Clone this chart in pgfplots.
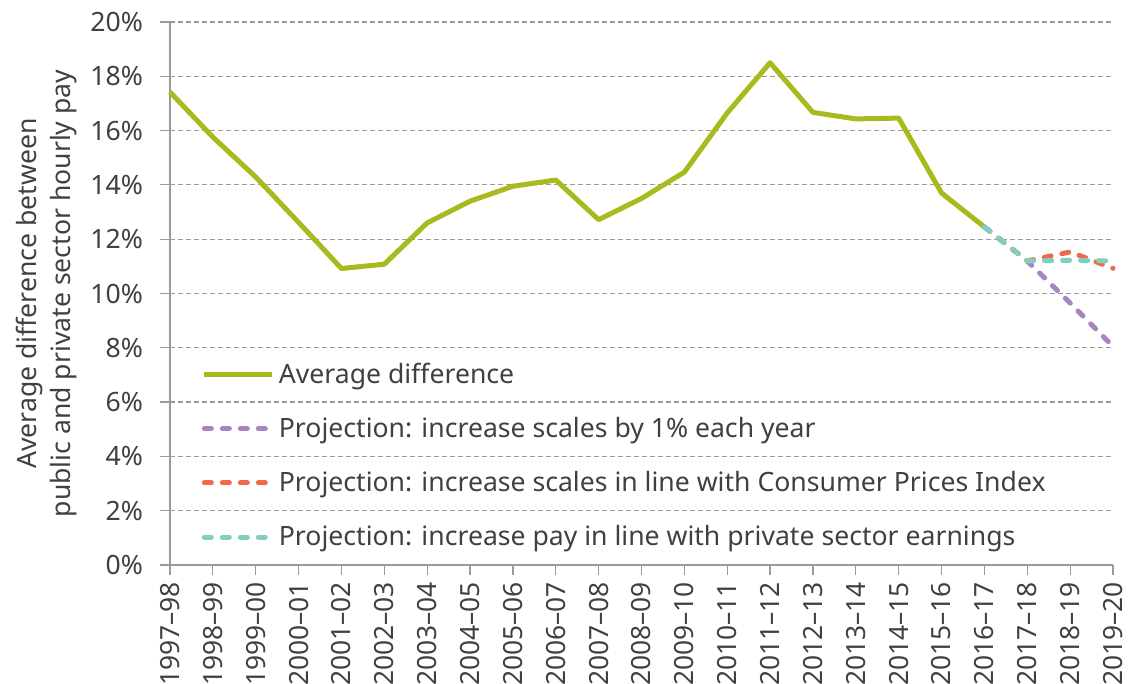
\documentclass[border=0pt]{standalone}
\usepackage{fontspec}
\setmainfont{Noto Sans}
\usepackage{pgfplots}
\pgfplotsset{compat=1.18}
\usetikzlibrary{calc}
\definecolor{cgreen}{HTML}{A9BA1E}
\definecolor{cpurple}{HTML}{A884C2}
\definecolor{cred}{HTML}{F2694A}
\definecolor{cteal}{HTML}{80CFC0}
\definecolor{cgrid}{HTML}{9A9A9A}
\definecolor{ctext}{HTML}{404040}
\begin{document}
\begin{tikzpicture}
\begin{axis}[
  scale only axis,
  width=471.5pt, height=271.5pt,
  xmin=0, xmax=22, ymin=0, ymax=20,
  axis x line*=bottom, axis y line*=left,
  axis line style={cgrid, line width=0.6pt},
  xtick={0,...,22},
  xticklabels={1997–98,1998–99,1999–00,2000–01,2001–02,2002–03,2003–04,2004–05,2005–06,2006–07,2007–08,2008–09,2009–10,2010–11,2011–12,2012–13,2013–14,2014–15,2015–16,2016–17,2017–18,2018–19,2019–20},
  x tick label style={rotate=90, anchor=east, font=\fontsize{13.2}{15}\selectfont, text=ctext},
  ytick={0,2,...,20},
  yticklabel={\pgfmathprintnumber{\tick}\%},
  y tick label style={font=\fontsize{13.3}{15}\selectfont, text=ctext, xshift=-5pt},
  /pgf/number format/assume math mode=true,
  tick align=outside, major tick length=5pt,
  tick style={cgrid, line width=0.6pt},
  ymajorgrids,
  grid style={cgrid, line width=0.6pt, dash pattern=on 2.5pt off 1.5pt},
  ylabel={Average difference between\\public and private sector hourly pay},
  ylabel style={align=center, font=\fontsize{13.3}{17}\selectfont, text=ctext},
  legend cell align=left,
  legend style={draw=none, fill=none, at={(0.027,0.388)}, anchor=north west,
    font=\fontsize{13.3}{15}\selectfont, text=ctext, row sep=11.5pt},
  legend image code/.code={\draw[#1] (0pt,0pt) -- (34pt,0pt);},
  clip=false,
]
\addplot[cgreen, line width=2.5pt, line join=round] coordinates {
(0,17.42) (1,15.76) (2,14.29) (3,12.62) (4,10.92) (5,11.08) (6,12.6) (7,13.4) (8,13.95) (9,14.18) (10,12.72) (11,13.5) (12,14.47) (13,16.65) (14,18.5) (15,16.67) (16,16.43) (17,16.46) (18,13.7) (19,12.45)
};
\addlegendentry{Average difference}
\addplot[cpurple, line width=2.5pt, line cap=round, dash pattern=on 3.5pt off 5.5pt] coordinates {
(19,12.45) (20,11.2) (21,9.65) (22,8.05)
};
\addlegendentry{Projection: increase scales by 1\% each year}
\addplot[cred, line width=2.5pt, line cap=round, dash pattern=on 3.5pt off 5.5pt] coordinates {
(19,12.45) (20,11.2) (21,11.53) (22,10.93)
};
\addlegendentry{Projection: increase scales in line with Consumer Prices Index}
\addplot[cteal, line width=2.5pt, line cap=round, dash pattern=on 3.5pt off 5.5pt] coordinates {
(19,12.45) (20,11.2) (21,11.22) (22,11.2)
};
\addlegendentry{Projection: increase pay in line with private sector earnings}
\end{axis}
\pgfresetboundingbox
\path ($(current axis.south west)+(-85pt,-59.5pt)$) rectangle ($(current axis.north east)+(8.5pt,11pt)$);
\end{tikzpicture}
\end{document}
